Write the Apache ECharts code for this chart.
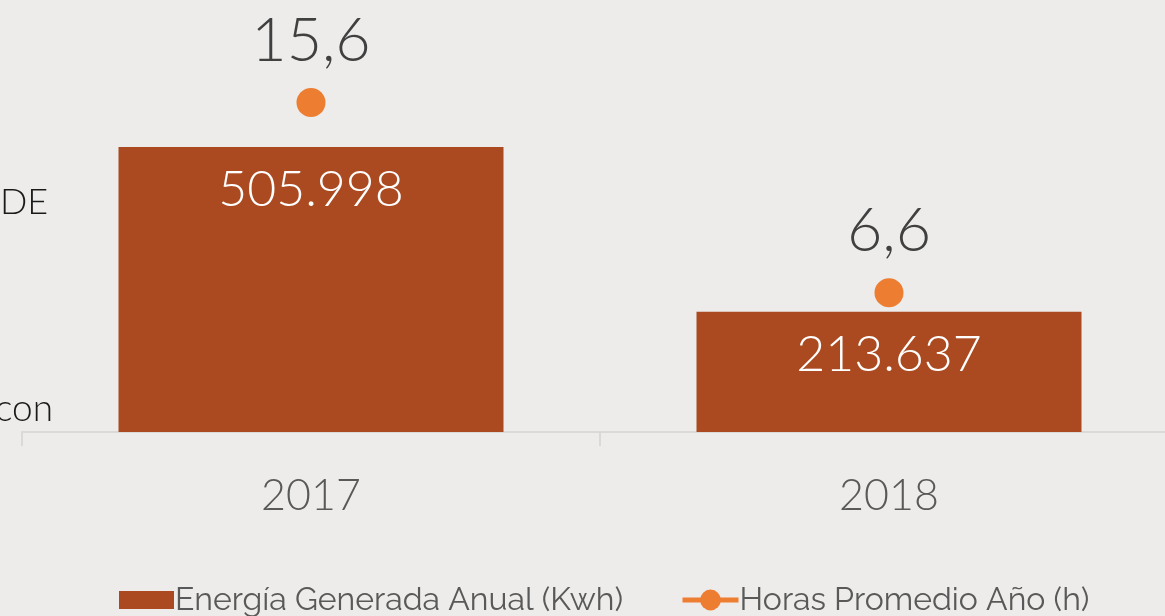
<!DOCTYPE html>
<html><head><meta charset="utf-8">
<script src="https://cdn.jsdelivr.net/npm/echarts@6/dist/echarts.min.js"></script>
<style>html,body{margin:0;padding:0;background:#EDECEA;overflow:hidden;width:1165px;height:616px;}#c{width:1178px;height:616px;}</style>
</head><body><div id="c"></div>
<script>
const categories = ['2017', '2018'];
const energia = [505998, 213637];
const horas = [15.6, 6.6];
const energiaLabels = ['505.998', '213.637'];
const horasLabels = ['15,6', '6,6'];
const seriesNames = ['Energía Generada Anual (Kwh)', 'Horas Promedio Año (h)'];

const legendText = { fontFamily: 'Raleway, Lato, sans-serif', fontSize: 32, color: '#595959', padding: [0, 0, 0, -4] };
const chart = echarts.init(document.getElementById('c'));
chart.setOption({
  backgroundColor: '#EDECEA',
  animation: false,
  grid: { left: 22, right: 0, top: 0, bottom: 184, containLabel: false },
  legend: [
    {
      left: 119, top: 584, padding: 0,
      itemWidth: 55, itemHeight: 18,
      textStyle: legendText,
      data: [{ name: seriesNames[0], icon: 'rect' }]
    },
    {
      left: 680, top: 584, padding: 0,
      itemWidth: 56, itemHeight: 26,
      textStyle: legendText,
      data: [{ name: seriesNames[1], lineStyle: { width: 5, color: '#ED7D31', opacity: 1 } }]
    }
  ],
  graphic: [
    { type: 'text', left: 0, top: 184, style: { text: 'DE', font: '300 36px Lato, sans-serif', fill: '#1a1a1a' } },
    { type: 'text', left: -5, top: 391, style: { text: 'con', font: '300 37px Lato, sans-serif', fill: '#1a1a1a' } }
  ],
  xAxis: {
    type: 'category', data: categories,
    axisLine: { lineStyle: { color: '#D9D9D9', width: 2 } },
    axisTick: { show: true, length: 14, lineStyle: { color: '#D9D9D9', width: 2 } },
    axisLabel: { margin: 43, fontSize: 43, color: '#595959', fontFamily: 'Lato, sans-serif', fontWeight: 300 }
  },
  yAxis: [
    { type: 'value', min: 0, max: 767000, show: false, splitLine: { show: false } },
    { type: 'value', min: 0, max: 20.46, show: false, splitLine: { show: false } }
  ],
  series: [
    {
      name: seriesNames[0], type: 'bar', data: energia, barWidth: 385, yAxisIndex: 0,
      itemStyle: { color: '#AB4A20' },
      label: {
        show: true, position: 'insideTop', distance: 18,
        formatter: p => energiaLabels[p.dataIndex],
        color: '#FFFFFF', fontSize: 50, fontFamily: 'Lato, sans-serif', fontWeight: 300
      }
    },
    {
      name: seriesNames[1], type: 'line', data: horas, yAxisIndex: 1,
      symbol: 'circle', symbolSize: 29,
      itemStyle: { color: '#ED7D31' },
      lineStyle: { width: 0, opacity: 0 },
      label: {
        show: true, position: 'top', distance: 16,
        formatter: p => horasLabels[p.dataIndex],
        color: '#404040', fontSize: 61, fontFamily: 'Lato, sans-serif', fontWeight: 300
      }
    }
  ]
});
</script>
</body></html>
